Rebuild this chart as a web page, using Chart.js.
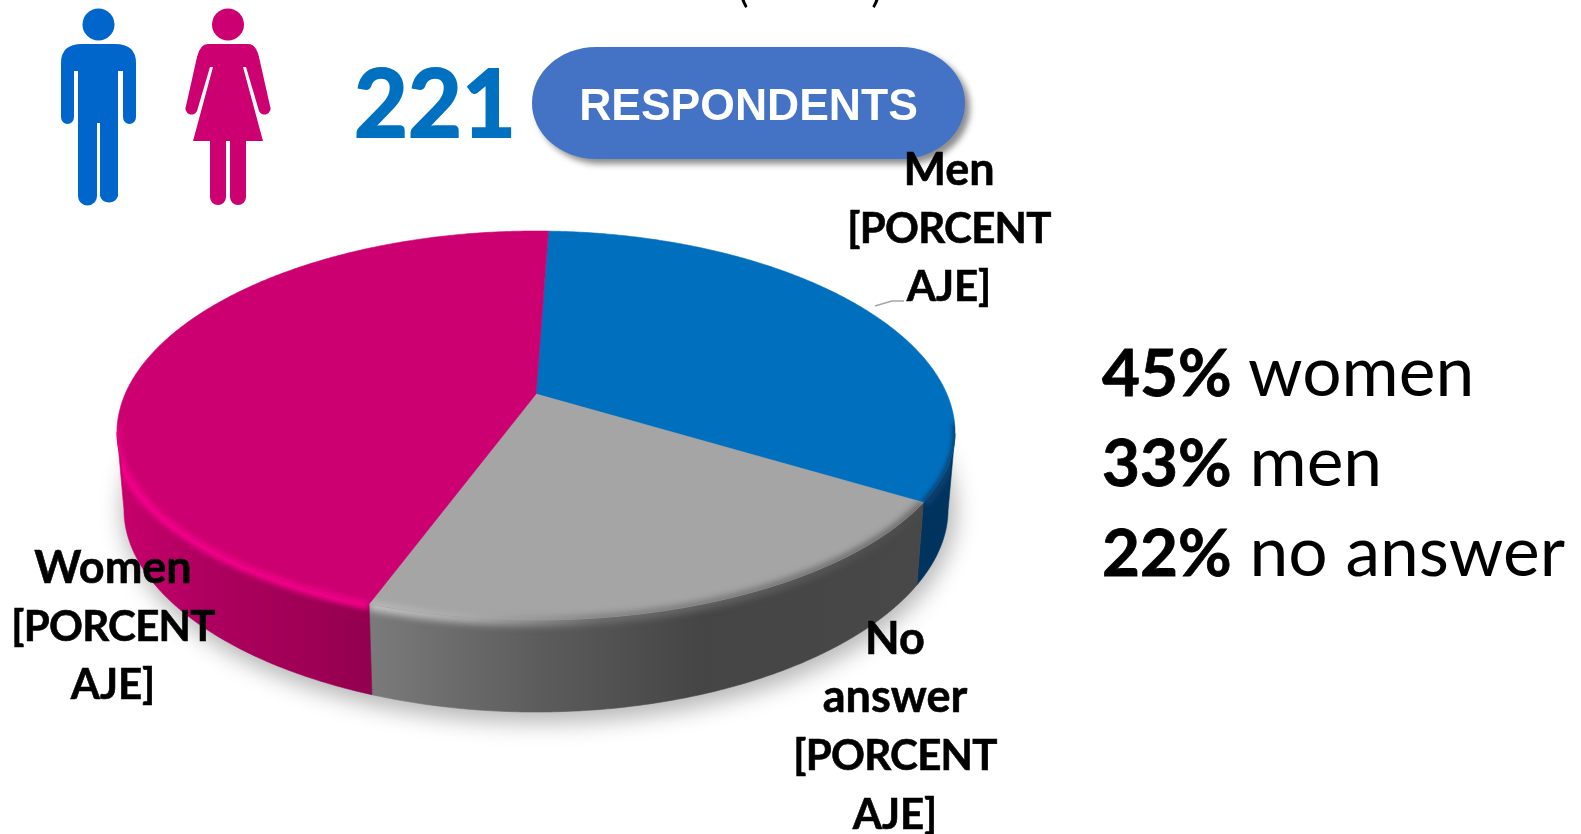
<!DOCTYPE html>
<html><head><meta charset="utf-8">
<style>
html,body{margin:0;padding:0;background:#fff;width:1581px;height:834px;overflow:hidden}
#c{position:absolute;left:0;top:0}
.t{position:absolute;font-family:Lato,sans-serif;color:#000;white-space:pre}
.lab{font-weight:700;font-size:42px;line-height:58.2px;text-align:center;width:300px;-webkit-text-stroke:.6px #000}
.lab i{font-style:normal;font-size:45px;line-height:40px}
.lab u{text-decoration:none;letter-spacing:-.7px}
.sum{font-size:69.5px;line-height:89px;left:1102px;top:325px}
.sum b{font-weight:700;font-size:65.5px;-webkit-text-stroke:.8px #000}
#pill{position:absolute;left:532px;top:47px;width:433px;height:112px;background:#4472c4;border-radius:64px/56px;box-shadow:5px 5px 6px rgba(0,0,0,.45);color:#fff;font:700 44.5px "Liberation Sans",sans-serif;text-align:center;line-height:115px}
#n{position:absolute;left:354px;top:45px;font:700 93px/112px Lato,sans-serif;color:#0070c0;-webkit-text-stroke:2px #0070c0}
#par{left:738px;top:-33px;width:144px;display:flex;justify-content:space-between;font-size:40px;line-height:40px}
svg{position:absolute;left:0;top:0}
</style></head><body>
<canvas id="c" width="1581" height="834"></canvas>
<svg width="1581" height="834">
<g transform="translate(0,1)">
<circle cx="98.5" cy="23.5" r="16" fill="#0066cc"/>
<path fill="#0066cc" d="M61 62Q61 43 82 43H115Q136 43 136 62V116A6.5 7 0 0 1 123 116V70H118V195A9.5 9.5 0 0 1 100 195V122H97V195A9.5 9.5 0 0 1 78 195V70H74V116A6.5 7 0 0 1 61 116Z"/>
<circle cx="228" cy="23.5" r="16" fill="#cc0070"/>
<path fill="#cc0070" d="M208 43H248Q256 43 259 56L270 105A6 6 0 0 1 259 110L246 66H243L263 140H246V196A8 8 0 0 1 230 196V140H226V196A8 8 0 0 1 210 196V140H193L213 66H210L197 110A6 6 0 0 1 186 105L197 56Q200 43 208 43Z"/>
</g>
<path fill="none" stroke="#a6a6a6" stroke-width="1.5" d="M875 306L892 301H904"/>
</svg>
<div id="par" class="t"><span>(</span><span>)</span></div>
<div id="n">221</div>
<div id="pill">RESPONDENTS</div>
<div class="t lab" style="left:799px;top:140px"><i>Men</i>
<u>[PORCENT</u>
AJE]</div>
<div class="t lab" style="left:-37px;top:538px"><i>Women</i>
<u>[PORCENT</u>
AJE]</div>
<div class="t lab" style="left:745px;top:609px"><i>No</i>
<i>answer</i>
<u>[PORCENT</u>
AJE]</div>
<div class="t sum"><b>45%</b> women
<b>33%</b> men
<b>22%</b> no answer</div>
<script src="https://cdn.jsdelivr.net/npm/chart.js@4"></script>
<script>
const categories = ['Men', 'No answer', 'Women'];
const shares = [33, 22, 45];
const faceColors = ['#006fbe', '#a5a5a5', '#cc0070'];
const startAngleDeg = 2;

// Projection of the flat disc onto the tilted plate
const HUB = {x: 536, y: 394}, A = 413.5, B = 189.4, K = -0.162;
const RIM = {x: 536, y: 425.5, rx: 419, ry: 194.5};
const BASE = {x: 536, y: 502, rx: 412, ry: 210};
const BULGE = 7;
const project = ang => {
  const u = Math.cos(ang), v = Math.sin(ang), w = 1 + K * v;
  const y = HUB.y + B * v / w;
  const t = Math.min(1, Math.abs(y - RIM.y) / RIM.ry);
  const bump = y < RIM.y ? 1 - t * t : (1 - t) * (1 - t);
  return {x: HUB.x + A * u / w, y: y + BULGE * bump};
};
const toBase = p => ({
  x: BASE.x + (p.x - RIM.x) * BASE.rx / RIM.rx,
  y: BASE.y + (p.y - RIM.y) * BASE.ry / RIM.ry
});
const rimPoints = (a0, a1) => {
  const n = Math.max(2, Math.ceil((a1 - a0) / 0.01)), out = [];
  for (let i = 0; i <= n; i++) out.push(project(a0 + (a1 - a0) * i / n));
  return out;
};
const hGrad = (ctx, stops) => {
  const x0 = stops[0][0], x1 = stops[stops.length - 1][0];
  const g = ctx.createLinearGradient(x0, 0, x1, 0);
  stops.forEach(s => g.addColorStop((s[0] - x0) / (x1 - x0), s[1]));
  return g;
};
const trace = (ctx, pts, move) => pts.forEach((p, i) => (i === 0 && move) ? ctx.moveTo(p.x, p.y) : ctx.lineTo(p.x, p.y));

const plate3d = {
  id: 'plate3d',
  beforeDatasetsDraw(chart) {
    const ctx = chart.ctx, arcs = chart.getDatasetMeta(0).data;
    const wallFill = [
      '#00345f',
      hGrad(ctx, [[373, '#7a7a7a'], [540, '#5c5c5c'], [700, '#454545'], [925, '#484848']]),
      hGrad(ctx, [[117, '#c8006c'], [200, '#b00060'], [300, '#a00056'], [373, '#92004e']])
    ];
    const rimStroke = [
      '#0b3f6e',
      hGrad(ctx, [[373, '#c4c4c4'], [470, '#acacac'], [600, '#6e6e6e'], [925, '#4a4a4a']]),
      '#f2008a'
    ];
    const blurs = [2, 3.5, 2.5];
    // soft ground shadow
    ctx.save();
    ctx.filter = 'blur(11px)';
    ctx.fillStyle = 'rgba(0,0,0,.28)';
    ctx.beginPath();
    ctx.ellipse(BASE.x + 3, BASE.y + 8, BASE.rx + 5, BASE.ry + 3, 0, 0, Math.PI * 2);
    ctx.fill();
    ctx.restore();
    // side walls
    arcs.forEach((arc, i) => {
      const pts = rimPoints(arc.startAngle, arc.endAngle).filter(p => p.y >= RIM.y + BULGE);
      if (!pts.length) return;
      ctx.beginPath();
      trace(ctx, pts, true);
      trace(ctx, pts.map(toBase).reverse(), false);
      ctx.closePath();
      ctx.fillStyle = wallFill[i];
      ctx.strokeStyle = wallFill[i];
      ctx.lineWidth = 0.6;
      ctx.fill(); ctx.stroke();
    });
    // soft bevel along the front rim
    arcs.forEach((arc, i) => {
      const all = rimPoints(arc.startAngle, arc.endAngle).filter(p => p.y >= RIM.y - 3);
      if (!all.length) return;
      ctx.save();
      ctx.beginPath();
      trace(ctx, all, true);
      trace(ctx, all.map(toBase).reverse(), false);
      ctx.closePath();
      ctx.clip();
      ctx.filter = `blur(${blurs[i]}px)`;
      ctx.strokeStyle = rimStroke[i];
      ctx.lineWidth = 12;
      ctx.beginPath();
      trace(ctx, all, true);
      ctx.stroke();
      ctx.restore();
    });
    // top face, one wedge per element, using the angles the library computed
    arcs.forEach((arc, i) => {
      ctx.beginPath();
      ctx.moveTo(HUB.x, HUB.y);
      trace(ctx, rimPoints(arc.startAngle, arc.endAngle), false);
      ctx.closePath();
      ctx.fillStyle = arc.options.backgroundColor;
      ctx.strokeStyle = arc.options.backgroundColor;
      ctx.lineWidth = 0.6;
      ctx.fill(); ctx.stroke();
    });
    // bevel bleeding softly onto the top face
    arcs.forEach((arc, i) => {
      const pts = rimPoints(arc.startAngle, arc.endAngle).filter(p => p.y >= RIM.y - 3);
      if (!pts.length) return;
      ctx.save();
      ctx.beginPath();
      ctx.moveTo(HUB.x, HUB.y);
      trace(ctx, rimPoints(arc.startAngle, arc.endAngle), false);
      ctx.closePath();
      ctx.clip();
      ctx.filter = `blur(${blurs[i]}px)`;
      ctx.strokeStyle = rimStroke[i];
      ctx.lineWidth = 5;
      ctx.beginPath();
      trace(ctx, pts, true);
      ctx.stroke();
      ctx.restore();
    });
    return false;
  }
};

new Chart(document.getElementById('c'), {
  type: 'pie',
  data: {labels: categories, datasets: [{data: shares, backgroundColor: faceColors, borderWidth: 0}]},
  options: {
    responsive: false,
    animation: false,
    rotation: startAngleDeg,
    plugins: {legend: {display: false}, tooltip: {enabled: false}, title: {display: false}}
  },
  plugins: [plate3d]
});
</script>
</body></html>
